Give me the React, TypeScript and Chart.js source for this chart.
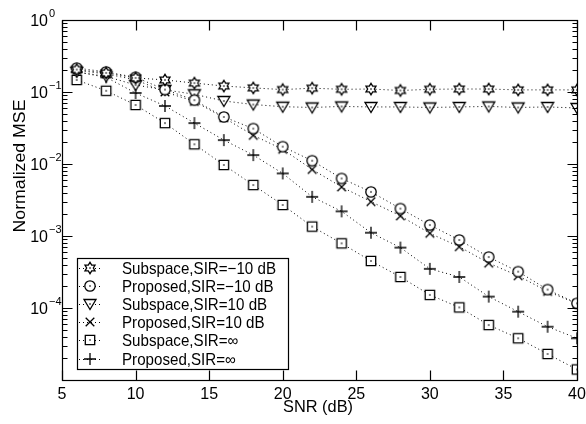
import React, { useEffect, useRef } from 'react';
import { Chart, registerables } from 'chart.js';

Chart.register(...registerables);

// ---------- data ----------
const snr = [6, 8, 10, 12, 14, 16, 18, 20, 22, 24, 26, 28, 30, 32, 34, 36, 38, 40];

const subspaceSirM10 = [0.205, 0.184, 0.157, 0.147, 0.133, 0.121, 0.114, 0.108, 0.113, 0.109, 0.11, 0.105, 0.109, 0.11, 0.11, 0.107, 0.107, 0.107];
const proposedSirM10 = [0.215, 0.19, 0.16, 0.108, 0.077, 0.045, 0.031, 0.0174, 0.0111, 0.0063, 0.0041, 0.0024, 0.00142, 0.00088, 0.00051, 0.00032, 0.00018, 0.000116];
const subspaceSir10 = [0.19, 0.165, 0.125, 0.107, 0.093, 0.075, 0.067, 0.0625, 0.061, 0.063, 0.062, 0.062, 0.061, 0.062, 0.063, 0.061, 0.062, 0.06];
const proposedSir10 = [0.2, 0.178, 0.148, 0.1, 0.074, 0.044, 0.025, 0.016, 0.0084, 0.0048, 0.003, 0.0019, 0.00109, 0.00071, 0.00042, 0.00028, 0.00017, 0.000115];
const subspaceSirInf = [0.147, 0.104, 0.066, 0.037, 0.0188, 0.0097, 0.0051, 0.0027, 0.00135, 0.00079, 0.00045, 0.00027, 0.000152, 0.000102, 0.000058, 0.000038, 0.000023, 0.000014];
const proposedSirInf = [0.19, 0.16, 0.097, 0.064, 0.037, 0.0215, 0.0133, 0.0074, 0.0035, 0.0022, 0.00111, 0.00069, 0.00035, 0.00027, 0.000144, 0.000089, 0.000055, 0.000038];

const seriesLabels = [
  'Subspace,SIR=\u221210 dB',
  'Proposed,SIR=\u221210 dB',
  'Subspace,SIR=10 dB',
  'Proposed,SIR=10 dB',
  'Subspace,SIR=\u221e',
  'Proposed,SIR=\u221e',
];
const seriesValues = [subspaceSirM10, proposedSirM10, subspaceSir10, proposedSir10, subspaceSirInf, proposedSirInf];
const seriesMarkers = ['hexagram', 'circle', 'triangleDown', 'x', 'square', 'plus'];

const xTickValues = [5, 10, 15, 20, 25, 30, 35, 40];
const yDecadeExponents = [0, -1, -2, -3, -4, -5];
const yLabelExponents = [0, -1, -2, -3, -4];

const xTitle = 'SNR (dB)';
const yTitle = 'Normalized MSE';

const FONT = '"Liberation Sans", Arial, Helvetica, sans-serif';

function makeMarker(kind: string): HTMLCanvasElement {
  const c = document.createElement('canvas');
  c.width = 16;
  c.height = 16;
  const ctx = c.getContext('2d') as CanvasRenderingContext2D;
  ctx.translate(8, 8);
  ctx.strokeStyle = '#000';
  ctx.fillStyle = '#fff';
  ctx.lineWidth = 1.3;
  let dot = true;
  ctx.beginPath();
  if (kind === 'hexagram') {
    const R = 5.8;
    const r = R / Math.sqrt(3);
    for (let i = 0; i < 12; i++) {
      const ang = -Math.PI / 2 + (i * Math.PI) / 6;
      const rad = i % 2 === 0 ? R : r;
      const px = Math.cos(ang) * rad;
      const py = Math.sin(ang) * rad;
      if (i === 0) ctx.moveTo(px, py);
      else ctx.lineTo(px, py);
    }
    ctx.closePath();
    ctx.fill();
    ctx.stroke();
  } else if (kind === 'circle') {
    ctx.arc(0, 0, 5.2, 0, Math.PI * 2);
    ctx.fill();
    ctx.stroke();
  } else if (kind === 'triangleDown') {
    ctx.moveTo(0, 5.5);
    ctx.lineTo(-6, -4.5);
    ctx.lineTo(6, -4.5);
    ctx.closePath();
    ctx.fill();
    ctx.stroke();
  } else if (kind === 'square') {
    ctx.rect(-4.7, -4.7, 9.4, 9.4);
    ctx.fill();
    ctx.stroke();
  } else if (kind === 'x') {
    ctx.moveTo(-4.3, -4.3);
    ctx.lineTo(4.3, 4.3);
    ctx.moveTo(4.3, -4.3);
    ctx.lineTo(-4.3, 4.3);
    ctx.stroke();
    dot = false;
  } else if (kind === 'plus') {
    ctx.moveTo(-6, 0);
    ctx.lineTo(6, 0);
    ctx.moveTo(0, -6);
    ctx.lineTo(0, 6);
    ctx.stroke();
    dot = false;
  }
  if (dot) {
    ctx.fillStyle = '#000';
    ctx.fillRect(-0.7, -0.7, 1.4, 1.4);
  }
  return c;
}

// draw text horizontally scaled so that a reference string would have targetWidth
function fitScale(ctx: CanvasRenderingContext2D, refText: string, font: string, targetWidth: number) {
  ctx.font = font;
  const w = ctx.measureText(refText).width;
  return w > 0 ? targetWidth / w : 1;
}

export default function App() {
  const ref = useRef<HTMLCanvasElement>(null);

  useEffect(() => {
    if (!ref.current) return;
    const markers = seriesMarkers.map((m) => makeMarker(m));

    const framePlugin = {
      id: 'framePlugin',
      afterDatasetsDraw(chart: any) {
        const ctx: CanvasRenderingContext2D = chart.ctx;
        const area = chart.chartArea;
        const xs = chart.scales.x;
        const ys = chart.scales.y;
        const L = Math.round(area.left) + 0.5;
        const R = Math.round(area.right) + 0.5;
        const T = Math.round(area.top) + 0.5;
        const B = Math.round(area.bottom) + 0.5;
        ctx.save();
        ctx.strokeStyle = '#000';
        ctx.lineWidth = 1.2;
        ctx.setLineDash([]);
        ctx.strokeRect(L, T, R - L, B - T);

        // x ticks (inward, top and bottom)
        ctx.beginPath();
        xTickValues.forEach((v) => {
          const px = Math.round(xs.getPixelForValue(v)) + 0.5;
          ctx.moveTo(px, B);
          ctx.lineTo(px, B - 10);
          ctx.moveTo(px, T);
          ctx.lineTo(px, T + 10);
        });
        // y ticks (major and minor, left and right)
        yDecadeExponents.forEach((e) => {
          const py = Math.round(ys.getPixelForValue(Math.pow(10, e))) + 0.5;
          ctx.moveTo(L, py);
          ctx.lineTo(L + 10, py);
          ctx.moveTo(R, py);
          ctx.lineTo(R - 10, py);
          if (e > -5) {
            for (let m = 2; m <= 9; m++) {
              const v = m * Math.pow(10, e - 1);
              const pm = Math.round(ys.getPixelForValue(v)) + 0.5;
              ctx.moveTo(L, pm);
              ctx.lineTo(L + 5, pm);
              ctx.moveTo(R, pm);
              ctx.lineTo(R - 5, pm);
            }
          }
        });
        ctx.stroke();

        // x tick labels
        ctx.fillStyle = '#000';
        ctx.font = `16px ${FONT}`;
        ctx.textAlign = 'center';
        ctx.textBaseline = 'alphabetic';
        xTickValues.forEach((v) => {
          const px = xs.getPixelForValue(v);
          ctx.fillText(String(v), px, B + 18.5);
        });

        // x title
        {
          const f = `16.5px ${FONT}`;
          const sx = fitScale(ctx, xTitle, f, 70);
          ctx.save();
          ctx.translate(318, B + 31.5);
          ctx.scale(sx, 1);
          ctx.font = f;
          ctx.textAlign = 'center';
          ctx.fillText(xTitle, 0, 0);
          ctx.restore();
        }

        // y tick labels 10^e
        yLabelExponents.forEach((e) => {
          const py = ys.getPixelForValue(Math.pow(10, e));
          ctx.font = `16px ${FONT}`;
          ctx.textAlign = 'right';
          ctx.fillText('10', 48, py + 6);
          ctx.font = `11px ${FONT}`;
          ctx.textAlign = 'left';
          ctx.fillText(e === 0 ? '0' : '\u2212' + String(-e), 49, py - 3);
        });

        // y title
        {
          const f = `16.5px ${FONT}`;
          const sx = fitScale(ctx, yTitle, f, 133);
          ctx.save();
          ctx.translate(25, 166);
          ctx.rotate(-Math.PI / 2);
          ctx.scale(sx, 1);
          ctx.font = f;
          ctx.textAlign = 'center';
          ctx.fillText(yTitle, 0, 0);
          ctx.restore();
        }

        // legend box
        const lx = 77.5;
        const ly = 258.5;
        const lw = 211;
        const lh = 111;
        ctx.fillStyle = '#fff';
        ctx.fillRect(lx, ly, lw, lh);
        ctx.lineWidth = 1.2;
        ctx.strokeStyle = '#000';
        ctx.strokeRect(lx, ly, lw, lh);
        const lf = `16.5px ${FONT}`;
        const lsx = fitScale(ctx, seriesLabels[0], lf, 154);
        seriesLabels.forEach((lab, i) => {
          const ry = 268 + i * 18.1;
          ctx.beginPath();
          ctx.setLineDash([1, 3]);
          ctx.lineWidth = 1;
          ctx.moveTo(79, Math.round(ry) + 0.5);
          ctx.lineTo(101, Math.round(ry) + 0.5);
          ctx.stroke();
          ctx.setLineDash([]);
          const mk = markers[i];
          ctx.drawImage(mk, Math.round(90 - mk.width / 2), Math.round(ry - mk.height / 2));
          ctx.save();
          ctx.translate(122, ry + 6);
          ctx.scale(lsx, 1);
          ctx.fillStyle = '#000';
          ctx.font = lf;
          ctx.textAlign = 'left';
          ctx.fillText(lab, 0, 0);
          ctx.restore();
        });
        ctx.restore();
      },
    };

    const datasets = seriesLabels.map((lab, i) => ({
      label: lab,
      data: snr.map((x, j) => ({ x, y: seriesValues[i][j] })),
      borderColor: '#000',
      backgroundColor: '#fff',
      borderWidth: 1,
      borderDash: [1, 3],
      pointStyle: markers[i],
      pointRadius: 6,
      pointHoverRadius: 6,
      tension: 0,
      fill: false,
    }));

    const chart = new Chart(ref.current, {
      type: 'line',
      data: { datasets },
      options: {
        responsive: false,
        animation: false,
        events: [],
        layout: { padding: { left: 62, right: 9, top: 20, bottom: 44 } },
        scales: {
          x: { type: 'linear', min: 5, max: 40, display: false },
          y: { type: 'logarithmic', min: 1e-5, max: 1, display: false },
        },
        plugins: {
          legend: { display: false },
          tooltip: { enabled: false },
        },
      },
      plugins: [framePlugin],
    } as any);

    return () => chart.destroy();
  }, []);

  return (
    <div style={{ position: 'fixed', left: 0, top: 0, width: 586, height: 424, background: '#fff' }}>
      <canvas ref={ref} width={586} height={424} style={{ display: 'block' }} />
    </div>
  );
}
